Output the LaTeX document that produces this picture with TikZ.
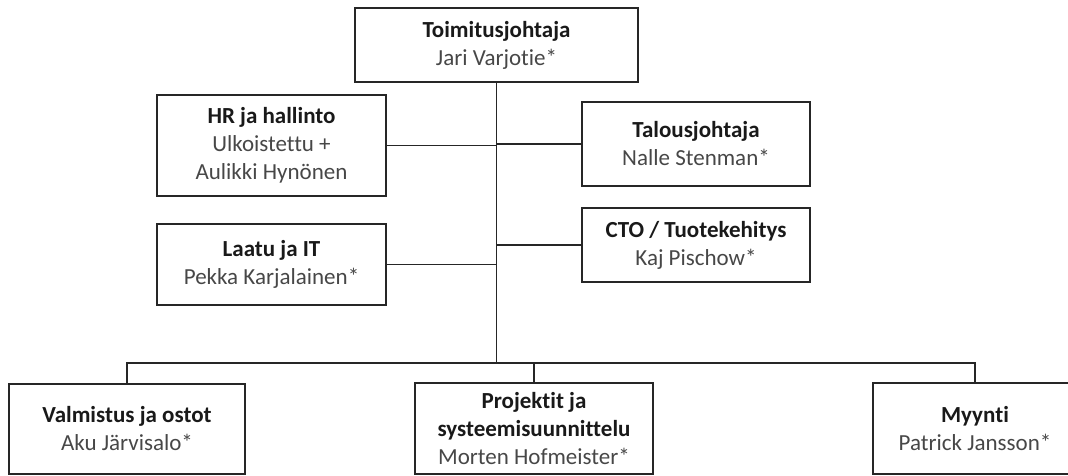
\documentclass[tikz,border=0pt]{standalone}
\usepackage{fontspec}
\setmainfont{Carlito}[Ligatures=CommonOff]
\newcommand{\unittitle}[1]{\textcolor{black!90}{\bfseries #1}}
\begin{document}
\begin{tikzpicture}[x=1pt,y=-1pt,
	unit/.style={draw=black!85, line width=1.6pt, align=center, inner sep=0pt,
		font=\fontsize{23}{28}\selectfont, text=black!72},
	link/.style={black!85, line width=1.6pt}]
	\useasboundingbox (0,0) rectangle (1068,476);

	\node[unit, minimum width=283pt, minimum height=74pt] (ceo) at (496.5,45) {\unittitle{Toimitusjohtaja}\\Jari Varjotie*};

	\node[unit, minimum width=229pt, minimum height=101pt] (hr) at (271.5,145.5) {\unittitle{HR ja hallinto}\\Ulkoistettu +\\Aulikki Hynönen};
	\node[unit, minimum width=228pt, minimum height=84pt] (cfo) at (696,144) {\unittitle{Talousjohtaja}\\Nalle Stenman*};
	\node[unit, minimum width=229pt, minimum height=81pt] (quality) at (271.5,264.5) {\unittitle{Laatu ja IT}\\Pekka Karjalainen*};
	\node[unit, minimum width=228pt, minimum height=74pt] (cto) at (696,245) {\unittitle{CTO / Tuotekehitys}\\Kaj Pischow*};

	\node[unit, minimum width=236pt, minimum height=90pt] (production) at (127,429) {\unittitle{Valmistus ja ostot}\\Aku Järvisalo*};
	\node[unit, minimum width=238pt, minimum height=91pt] (projects) at (534,428.5) {\unittitle{Projektit ja}\\\unittitle{systeemisuunnittelu}\\Morten Hofmeister*};
	\node[unit, minimum width=204pt, minimum height=91pt] (sales) at (975,428.5) {\unittitle{Myynti}\\Patrick Jansson*};

	% trunk and branches
	\coordinate (bus) at (ceo.south |- 0,363);
	\draw[link] (ceo.south) -- (bus);
	\draw[link] (hr.east) -- (hr.east -| bus);
	\draw[link] (cfo.west) -- (cfo.west -| bus);
	\draw[link] (quality.east) -- (quality.east -| bus);
	\draw[link] (cto.west) -- (cto.west -| bus);
	\draw[link] (production.north) |- (bus) -| (sales.north);
	\draw[link] (projects.north) -- (projects.north |- bus);
\end{tikzpicture}
\end{document}
